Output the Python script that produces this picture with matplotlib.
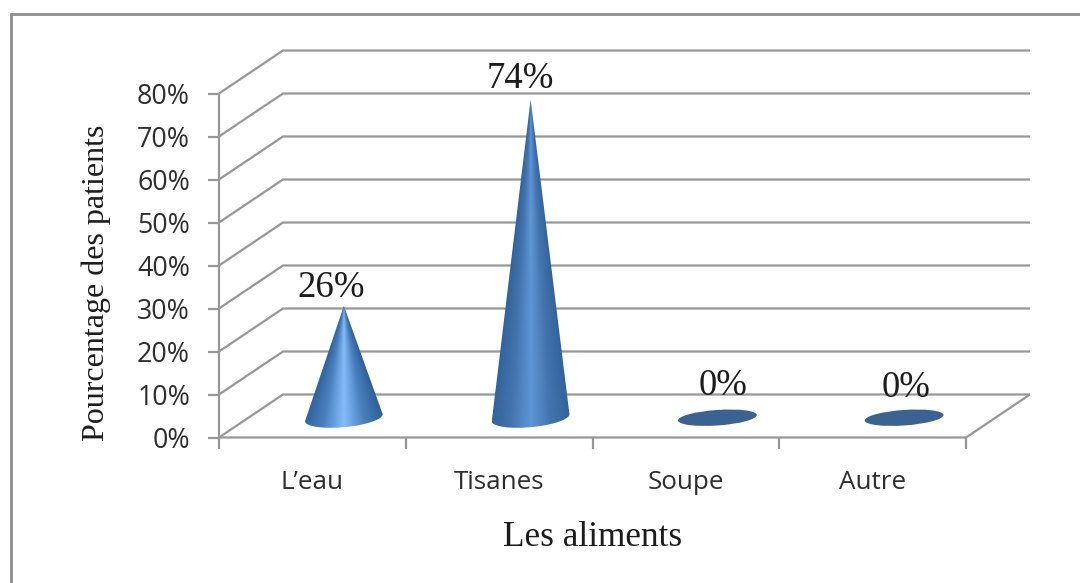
import numpy as np
import matplotlib
matplotlib.use("Agg")
import matplotlib.pyplot as plt
from matplotlib.colors import LinearSegmentedColormap
from matplotlib.patches import Ellipse, PathPatch
from matplotlib.path import Path
from matplotlib.lines import Line2D

categories = ["L\u2019eau", "Tisanes", "Soupe", "Autre"]
values = [26, 74, 0, 0]
value_labels = ["26%", "74%", "0%", "0%"]
y_ticks = [0, 10, 20, 30, 40, 50, 60, 70, 80]
y_tick_labels = ["0%", "10%", "20%", "30%", "40%", "50%", "60%", "70%", "80%"]
x_label = "Les aliments"
y_label = "Pourcentage des patients"

W, H = 1080, 583
SANS = "Open Sans"
SERIF = "Liberation Serif"
GRID = "#979797"
TEXT = "#2e2e2e"
INK = "#1c1c1c"

# Front plane of the 3-D box, in figure pixels
X0, X1 = 219, 966
Y0, Y80 = 437.5, 93.5
# Receding offset of the box, expressed in data units
DEPTH_X = 64 / ((X1 - X0) / 4)
DEPTH_Y = 10.0

fig = plt.figure(figsize=(W / 100, H / 100), dpi=100, facecolor="white")

# Outer chart frame, open on the right and at the bottom
bg = fig.add_axes([0, 0, 1, 1])
bg.set_xlim(0, W)
bg.set_ylim(H, 0)
bg.axis("off")
bg.add_line(Line2D([11, 11, W], [H, 14, 14], color="#8c8c8c", lw=2.0,
                   solid_joinstyle="miter"))

ax = fig.add_axes([X0 / W, 1 - Y0 / H, (X1 - X0) / W, (Y0 - Y80) / H])
ax.set_xlim(0, 4)
ax.set_ylim(0, 80)
ax.axis("off")

line_kw = dict(color=GRID, lw=1.6, clip_on=False, solid_capstyle="butt", zorder=1)

# Back-wall gridlines with their slanted side-wall segments
for v in y_ticks:
    ax.plot([0, DEPTH_X, 4 + DEPTH_X], [v, v + DEPTH_Y, v + DEPTH_Y], **line_kw)
    ax.plot([-0.06, 0], [v, v], **line_kw)

# Front axes and floor edge
ax.plot([0, 0], [0, 80], **line_kw)
ax.plot([0, 4, 4 + DEPTH_X], [0, 0, DEPTH_Y], **line_kw)
for i in range(5):
    ax.plot([i, i], [0, -2.6], **line_kw)

# Category and value-axis labels
for i, name in enumerate(categories):
    ax.text(i + 0.5, -10.5, name, ha="center", va="center", family=SANS,
            fontsize=18.7, color=TEXT, clip_on=False)
for v, lab in zip(y_ticks, y_tick_labels):
    ax.text(-0.155, v - 0.7, lab, ha="right", va="center", family=SANS,
            fontsize=19.3, color=TEXT, clip_on=False)

fig.text(593 / W, 1 - 537 / H, x_label, ha="center", va="center",
         family=SERIF, fontsize=25.4, color=INK)
fig.text(96 / W, 1 - 283 / H, y_label, ha="center", va="center", rotation=90,
         family=SERIF, fontsize=23, color=INK)

bright = LinearSegmentedColormap.from_list(
    "cone_bright", ["#2f6199", "#4a80bd", "#84bcfb", "#4a80bd", "#2f6199"])
muted = LinearSegmentedColormap.from_list(
    "cone_muted", ["#33639b", "#4474ae", "#5f95d6", "#4474ae", "#33639b"])

HALF_W = 0.208          # base half-width in category units
BASE_H = 4.4            # base half-thickness in percent units
TILT = 0.8              # rise of the base's right end in percent units

# Nudges of the value labels (category units, percent units)
label_offsets = [(-0.07, -0.7), (-0.055, -0.2), (0.03, 2.4), (0.01, 2.0)]

for i, (val, lab) in enumerate(zip(values, value_labels)):
    cx = i + 0.5 + 63 / ((X1 - X0) / 4) / 2
    cy = DEPTH_Y / 2 - 0.4
    if val > 0:
        # Cone silhouette: apex down to the ends of a curved base
        t = np.linspace(0, np.pi, 40)
        bx = cx - HALF_W * np.cos(t)
        by = cy - TILT * np.cos(t) - BASE_H * 0.5 * np.sin(t)
        verts = [(cx, cy + val)] + list(zip(bx, by)) + [(cx, cy + val)]
        codes = [Path.MOVETO] + [Path.LINETO] * (len(verts) - 2) + [Path.CLOSEPOLY]
        clip = PathPatch(Path(verts, codes), transform=ax.transData, fc="none", ec="none")
        ax.add_patch(clip)
        # Shading runs around the cone, so the gradient narrows towards the apex
        xs = np.linspace(cx - HALF_W, cx + HALF_W, 200)
        ys = np.linspace(cy + val, cy - BASE_H, 400)
        gx, gy = np.meshgrid(xs, ys)
        half = np.maximum(HALF_W * (cy + val - gy) / val, 1e-3)
        shade = np.clip(0.5 + (gx - cx) / (2 * half), 0, 1)
        im = ax.imshow(shade, cmap=bright if val < 50 else muted, aspect="auto",
                       vmin=0, vmax=1, extent=[cx - HALF_W, cx + HALF_W, cy - BASE_H, cy + val],
                       zorder=3, clip_on=True)
        im.set_clip_path(clip)
        ax.set_xlim(0, 4)
        ax.set_ylim(0, 80)
    else:
        # A zero-height cone collapses to its flat base
        px, py = ax.transData.transform((cx, cy))
        bg.add_patch(Ellipse((px, H - py), 79, 15.5, angle=-4, fc="#3b6290", ec="none", zorder=3))
    dx, dy = label_offsets[i]
    ax.text(cx + dx, cy + val + 5.0 + dy, lab, ha="center", va="center", family=SERIF,
            fontsize=26.5, color=INK, clip_on=False, zorder=4)

fig.savefig("out.png", dpi=100)
